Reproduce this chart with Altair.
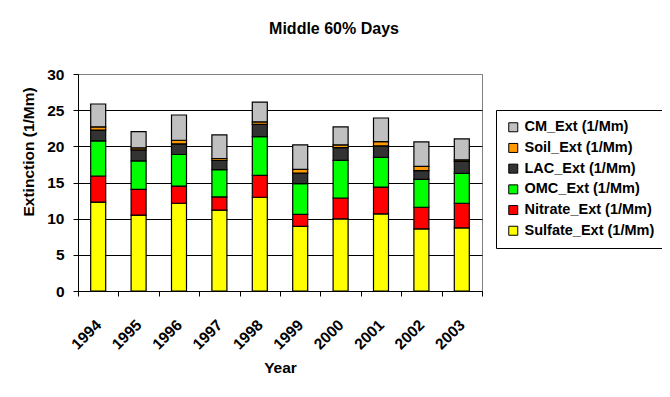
import altair as alt
import pandas as pd

years = ["1994", "1995", "1996", "1997", "1998", "1999", "2000", "2001", "2002", "2003"]
sulfate = [12.3, 10.5, 12.13, 11.17, 12.96, 8.93, 9.98, 10.66, 8.6, 8.73]
nitrate = [3.6, 3.56, 2.37, 1.83, 3.02, 1.65, 2.88, 3.71, 2.98, 3.4]
omc = [4.85, 3.94, 4.37, 3.77, 5.37, 4.26, 5.19, 4.09, 3.85, 4.13]
lac = [1.5, 1.5, 1.47, 1.28, 1.69, 1.46, 1.78, 1.61, 1.2, 1.65]
soil = [0.45, 0.3, 0.5, 0.27, 0.33, 0.51, 0.37, 0.59, 0.59, 0.23]
cm = [3.15, 2.24, 3.49, 3.26, 2.75, 3.39, 2.48, 3.26, 3.4, 2.89]

series_names = ["Sulfate_Ext (1/Mm)", "Nitrate_Ext (1/Mm)", "OMC_Ext (1/Mm)",
                "LAC_Ext (1/Mm)", "Soil_Ext (1/Mm)", "CM_Ext (1/Mm)"]
series_values = [sulfate, nitrate, omc, lac, soil, cm]
series_colors = ["#FFFF00", "#FF0000", "#00FF00", "#333333", "#FF9900", "#C0C0C0"]

rows = []
for k, (name, vals) in enumerate(zip(series_names, series_values)):
    for yr, v in zip(years, vals):
        rows.append({"Year": yr, "Series": name, "Value": v, "Order": k})
df = pd.DataFrame(rows)

legend_domain = list(reversed(series_names))
legend_range = list(reversed(series_colors))

FONT = "Liberation Sans"
FW = "bold"

chart = alt.Chart(df).mark_bar(size=15, stroke="black", strokeWidth=1.2).encode(
    x=alt.X("Year:N", sort=years,
            scale=alt.Scale(paddingInner=0, paddingOuter=0),
            axis=alt.Axis(title="Year", labelAngle=-45, labelAlign="right",
                          labelBaseline="middle", labelPadding=26, tickSize=5,
                          tickBand="extent", titleY=81, titleBaseline="alphabetic",
                          grid=False)),
    y=alt.Y("Value:Q", stack="zero",
            scale=alt.Scale(domain=[0, 30], nice=False),
            axis=alt.Axis(title="Extinction (1/Mm)", values=[0, 5, 10, 15, 20, 25, 30],
                          tickSize=5, labelPadding=9, grid=True,
                          gridColor={"condition": {"test": "datum.value == 30", "value": "#808080"},
                                     "value": "black"},
                          titleAngle=270, titleX=-50, titleY=142, titleAlign="left",
                          titleBaseline="middle")),
    fill=alt.Color("Series:N",
                   scale=alt.Scale(domain=legend_domain, range=legend_range),
                   legend=alt.Legend(title=None, orient="none", legendX=418, legendY=36,
                                     symbolType="square", symbolSize=81,
                                     symbolStrokeColor="black", symbolStrokeWidth=1,
                                     labelOffset=4, rowPadding=5.7, padding=10,
                                     strokeColor="black", fillColor="white",
                                     labelLimit=300)),
    order=alt.Order("Order:Q", sort="ascending"),
).properties(
    width=404,
    height=217,
    title=alt.TitleParams("Middle 60% Days", anchor="middle", frame="group", dx=54,
                          offset=30, font=FONT, fontSize=16, fontWeight=FW,
                          color="black"),
    autosize=alt.AutoSizeParams(type="none"),
    padding={"left": 70, "top": 66, "right": 180, "bottom": 98},
).configure_view(
    stroke="#808080", strokeWidth=1
).configure_axis(
    domainColor="black", tickColor="black", labelColor="black", titleColor="black",
    labelFont=FONT, titleFont=FONT, labelFontSize=15.5, titleFontSize=15.5,
    labelFontWeight=FW, titleFontWeight=FW, gridWidth=1, domainWidth=1,
).configure_legend(
    labelFont=FONT, labelFontSize=14.5, labelFontWeight=FW, labelColor="black",
)

chart.save("out.html", embed_options={"renderer": "svg", "actions": False})
